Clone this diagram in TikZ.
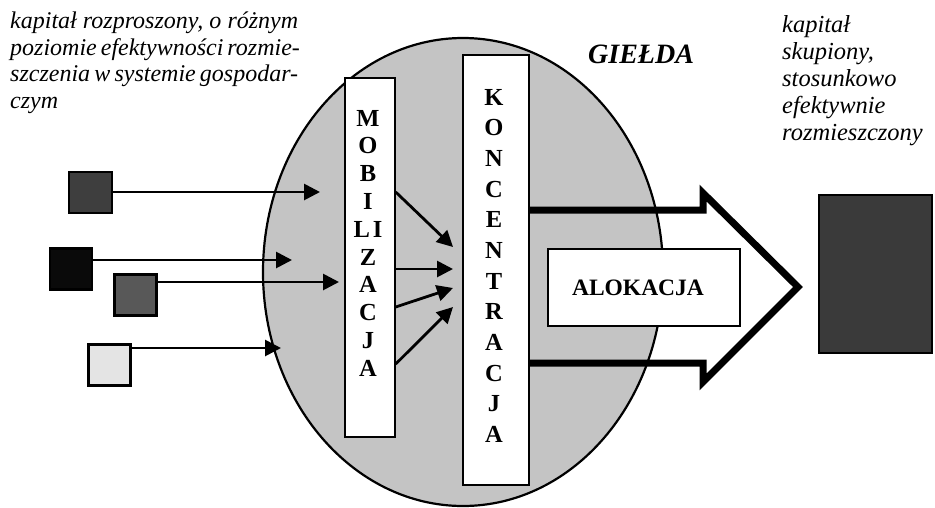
\documentclass[tikz,border=0pt]{standalone}
\usepackage{fontspec}
\setmainfont{Liberation Serif}
\usetikzlibrary{arrows.meta,shapes.geometric}

\definecolor{marketgray}{RGB}{196,196,196}
\definecolor{capA}{RGB}{62,62,62}
\definecolor{capB}{RGB}{10,10,10}
\definecolor{capC}{RGB}{88,88,88}
\definecolor{capD}{RGB}{228,228,228}
\definecolor{capE}{RGB}{58,58,58}

\begin{document}
\begin{tikzpicture}[x=1pt,y=-1pt,
  flow/.style={line width=2.8pt,-{Triangle[length=16pt,width=16pt]}},
  capbox/.style={draw=black,line width=2.2pt,inner sep=0pt,minimum width=42pt,minimum height=41pt},
  bar/.style={draw=black,line width=1.4pt,fill=white,inner sep=0pt},
  letter/.style={font=\fontsize{24.5}{24.5}\selectfont\bfseries,inner sep=0pt},
  note/.style={font=\fontsize{24}{26.4}\selectfont\itshape,inner sep=0pt,align=left}]

\useasboundingbox (0,0) rectangle (935,507);

% the stock exchange
\node[ellipse,draw=black,line width=2.2pt,fill=marketgray,
      minimum width=400pt,minimum height=468pt,inner sep=0pt] (market) at (463,272) {};

% columns: mobilisation and concentration
\node[bar,minimum width=50pt,minimum height=359pt] (mob) at (370,257.5) {};
\node[bar,minimum width=66pt,minimum height=430pt] (kon) at (496,270) {};

% outlined allocation arrow leaving the concentration column
\draw[line width=7pt,miter limit=10]
  (kon.east |- 0,210) -- (703,210) -- (703,193) -- (798,287)
  -- (703,382) -- (703,363) -- (kon.east |- 0,363);
\node[bar,minimum width=192pt,minimum height=77pt,
      font=\fontsize{23.5}{23.5}\selectfont\bfseries] (alok) at (644,287.5)
  {\hspace*{-12pt}ALOKACJA};

% letters of the two columns
\foreach \ch [count=\i from 0] in {M,O,B,I,L\hspace{3pt}I,Z,A,C,J,A}
  \node[letter] (m\i) at (368,118+27.8*\i) {\ch};
\foreach \ch [count=\i from 0] in {K,O,N,C,E,N,T,R,A,C,J,A}
  \node[letter] (k\i) at (494,97+30.7*\i) {\ch};

% scattered capital
\node[capbox,fill=capA,minimum width=43pt] (sq1) at (90.5,192.5) {};
\node[capbox,fill=capB] (sq2) at (71,269) {};
\node[capbox,fill=capC,line width=2.8pt] (sq3) at (135.5,295) {};
\node[capbox,fill=capD] (sq4) at (109.5,365) {};

% concentrated capital
\node[draw=black,line width=2.8pt,fill=capE,inner sep=0pt,
      minimum width=113pt,minimum height=158pt] (target) at (875.5,274) {};

% inflows into the exchange
\coordinate (in1) at (320,192);
\coordinate (in2) at (292,260);
\coordinate (in3) at (339,282);
\coordinate (in4) at (281,348);
\draw[flow] (sq1.east |- in1) -- (in1);
\draw[flow] (sq2.east |- in2) -- (in2);
\draw[flow] (sq3.east |- in3) -- (in3);
\draw[flow] (sq4.east |- in4) -- (in4);

% mobilisation feeding concentration
\coordinate (c1) at (453,247);
\coordinate (c2) at (453,269);
\coordinate (c3) at (453,288);
\coordinate (c4) at (453,307);
\draw[flow] (mob.east |- 0,192) -- (c1);
\draw[flow] (mob.east |- 0,269) -- (c2);
\draw[flow] (mob.east |- 0,307) -- (c3);
\draw[flow] (mob.east |- 0,364) -- (c4);

% labels
\node[note,anchor=north west] (src) at (10,12)
  {\makebox[288pt][s]{kapitał rozproszony, o różnym}\\
   \makebox[288pt][s]{poziomie efektywności rozmie-}\\
   \makebox[288pt][s]{szczenia w systemie gospodar-}\\
   czym};
\node[note,font=\fontsize{24.5}{27}\selectfont\itshape,anchor=north west] (dst) at (782,15)
  {kapitał\\skupiony,\\stosunkowo\\efektywnie\\rozmieszczony};
\node[font=\fontsize{28}{30}\selectfont\bfseries\itshape,anchor=base west,inner sep=0pt]
  (gielda) at (588,63) {GIEŁDA};

\end{tikzpicture}
\end{document}
